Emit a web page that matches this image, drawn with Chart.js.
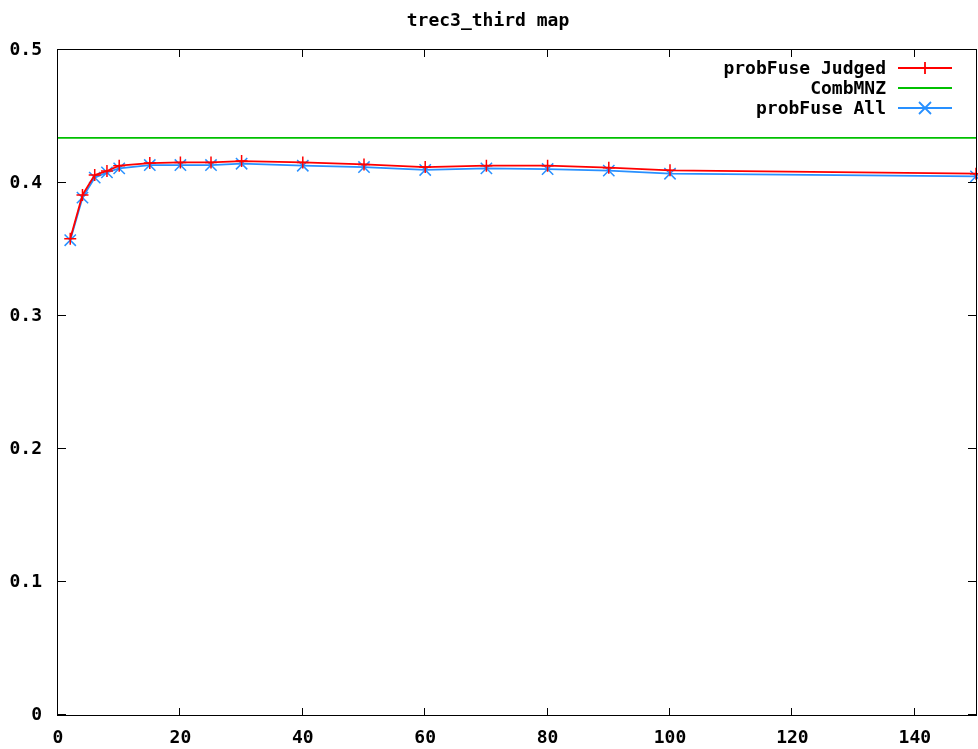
<!DOCTYPE html>
<html>
<head>
<meta charset="utf-8">
<script src="https://cdn.jsdelivr.net/npm/chart.js@4.4.0/dist/chart.umd.min.js"></script>
<style>
html, body { margin: 0; padding: 0; background: #fff; }
#wrap { width: 978px; height: 749px; }
</style>
</head>
<body>
<div id="wrap"><canvas id="mapChart"></canvas></div>
<script>
// values
const cutoffs = [2, 4, 6, 8, 10, 15, 20, 25, 30, 40, 50, 60, 70, 80, 90, 100, 150];
const judgedMap = [0.358, 0.391, 0.406, 0.409, 0.413, 0.415, 0.4155, 0.4155, 0.4165, 0.4155, 0.414, 0.412, 0.413, 0.413, 0.4115, 0.4095, 0.407];
const allMap = [0.357, 0.389, 0.404, 0.408, 0.411, 0.4135, 0.4135, 0.4135, 0.4145, 0.413, 0.412, 0.4098, 0.411, 0.4105, 0.4093, 0.407, 0.405];
const combMnzX = [0, 150];
const combMnzMap = [0.434, 0.434];
const xTicks = [0, 20, 40, 60, 80, 100, 120, 140];
const yTicks = [0, 0.1, 0.2, 0.3, 0.4, 0.5];
const seriesNames = ['probFuse Judged', 'CombMNZ', 'probFuse All'];

const RED = '#ff0000';
const GREEN = '#00c000';
const BLUE = '#2890ff';
const FONT = 'DejaVu Sans Mono';

function toPoints(xs, ys) {
    return xs.map((x, i) => ({ x: x, y: ys[i] }));
}

// gnuplot style: closed frame, ticks pointing inward on all four sides, legend in the top right
const gnuplotFrame = {
    id: 'gnuplotFrame',
    afterDraw(chart) {
        const ctx = chart.ctx;
        const a = chart.chartArea;
        const x = chart.scales.x;
        const y = chart.scales.y;
        ctx.save();
        ctx.strokeStyle = '#000';
        ctx.lineWidth = 1;
        ctx.strokeRect(a.left - 0.5, a.top - 0.5, a.right - a.left + 1, a.bottom - a.top + 1);
        ctx.beginPath();
        xTicks.forEach(v => {
            const px = Math.round(x.getPixelForValue(v)) - 0.5;
            ctx.moveTo(px, a.bottom); ctx.lineTo(px, a.bottom - 7);
            ctx.moveTo(px, a.top); ctx.lineTo(px, a.top + 7);
        });
        yTicks.forEach(v => {
            const py = Math.round(y.getPixelForValue(v)) - 0.5;
            ctx.moveTo(a.left, py); ctx.lineTo(a.left + 8, py);
            ctx.moveTo(a.right, py); ctx.lineTo(a.right - 8, py);
        });
        ctx.stroke();

        // legend
        const colors = [RED, GREEN, BLUE];
        const marks = ['plus', null, 'x'];
        ctx.font = 'bold 18px ' + FONT;
        ctx.textAlign = 'right';
        ctx.textBaseline = 'middle';
        seriesNames.forEach((name, i) => {
            const ry = a.top + 18 + i * 20;
            ctx.fillStyle = '#000';
            ctx.fillText(name, a.right - 90, ry + 1);
            ctx.strokeStyle = colors[i];
            ctx.lineWidth = 1.8;
            ctx.beginPath();
            ctx.moveTo(a.right - 78, ry);
            ctx.lineTo(a.right - 24, ry);
            const cx = a.right - 51;
            if (marks[i] === 'plus') {
                ctx.moveTo(cx, ry - 6); ctx.lineTo(cx, ry + 6);
            } else if (marks[i] === 'x') {
                ctx.moveTo(cx - 6, ry - 6); ctx.lineTo(cx + 6, ry + 6);
                ctx.moveTo(cx - 6, ry + 6); ctx.lineTo(cx + 6, ry - 6);
            }
            ctx.stroke();
        });
        ctx.restore();
    }
};

const ctx = document.getElementById('mapChart').getContext('2d');
new Chart(ctx, {
    type: 'line',
    data: {
        datasets: [
            {
                label: seriesNames[0],
                data: toPoints(cutoffs, judgedMap),
                borderColor: RED,
                backgroundColor: RED,
                borderWidth: 1.8,
                pointStyle: 'cross',
                pointRadius: 6,
                pointBorderWidth: 1.5,
                pointBorderColor: RED,
                tension: 0,
                clip: false
            },
            {
                label: seriesNames[1],
                data: toPoints(combMnzX, combMnzMap),
                borderColor: GREEN,
                backgroundColor: GREEN,
                borderWidth: 1.8,
                pointRadius: 0,
                tension: 0
            },
            {
                label: seriesNames[2],
                data: toPoints(cutoffs, allMap),
                borderColor: BLUE,
                backgroundColor: BLUE,
                borderWidth: 1.8,
                pointStyle: 'crossRot',
                pointRadius: 8,
                pointBorderWidth: 1.5,
                pointBorderColor: BLUE,
                tension: 0,
                clip: false
            }
        ]
    },
    options: {
        responsive: true,
        maintainAspectRatio: false,
        animation: false,
        layout: { autoPadding: false, padding: { left: 0, right: 2, top: 0, bottom: 0 } },
        scales: {
            x: {
                type: 'linear',
                min: 0,
                max: 150,
                afterBuildTicks: s => { s.ticks = xTicks.map(v => ({ value: v })); },
                afterFit: s => { s.height = 34; s.paddingRight = 0; s.paddingLeft = 0; },
                grid: { drawOnChartArea: false, drawTicks: false },
                border: { display: false },
                ticks: {
                    padding: 13,
                    maxRotation: 0,
                    color: '#000',
                    font: { family: FONT, size: 18, weight: 'bold' }
                }
            },
            y: {
                min: 0,
                max: 0.5,
                afterBuildTicks: s => { s.ticks = yTicks.map(v => ({ value: v })); },
                afterFit: s => { s.width = 58; },
                grid: { drawOnChartArea: false, drawTicks: false },
                border: { display: false },
                ticks: {
                    padding: 16,
                    color: '#000',
                    font: { family: FONT, size: 18, weight: 'bold' }
                }
            }
        },
        plugins: {
            legend: { display: false },
            tooltip: { enabled: false },
            title: {
                display: true,
                text: 'trec3_third map',
                color: '#000',
                font: { family: FONT, size: 18, weight: 'bold', lineHeight: 1.2 },
                padding: { top: 11, bottom: 17.4 }
            }
        }
    },
    plugins: [gnuplotFrame]
});
</script>
</body>
</html>
